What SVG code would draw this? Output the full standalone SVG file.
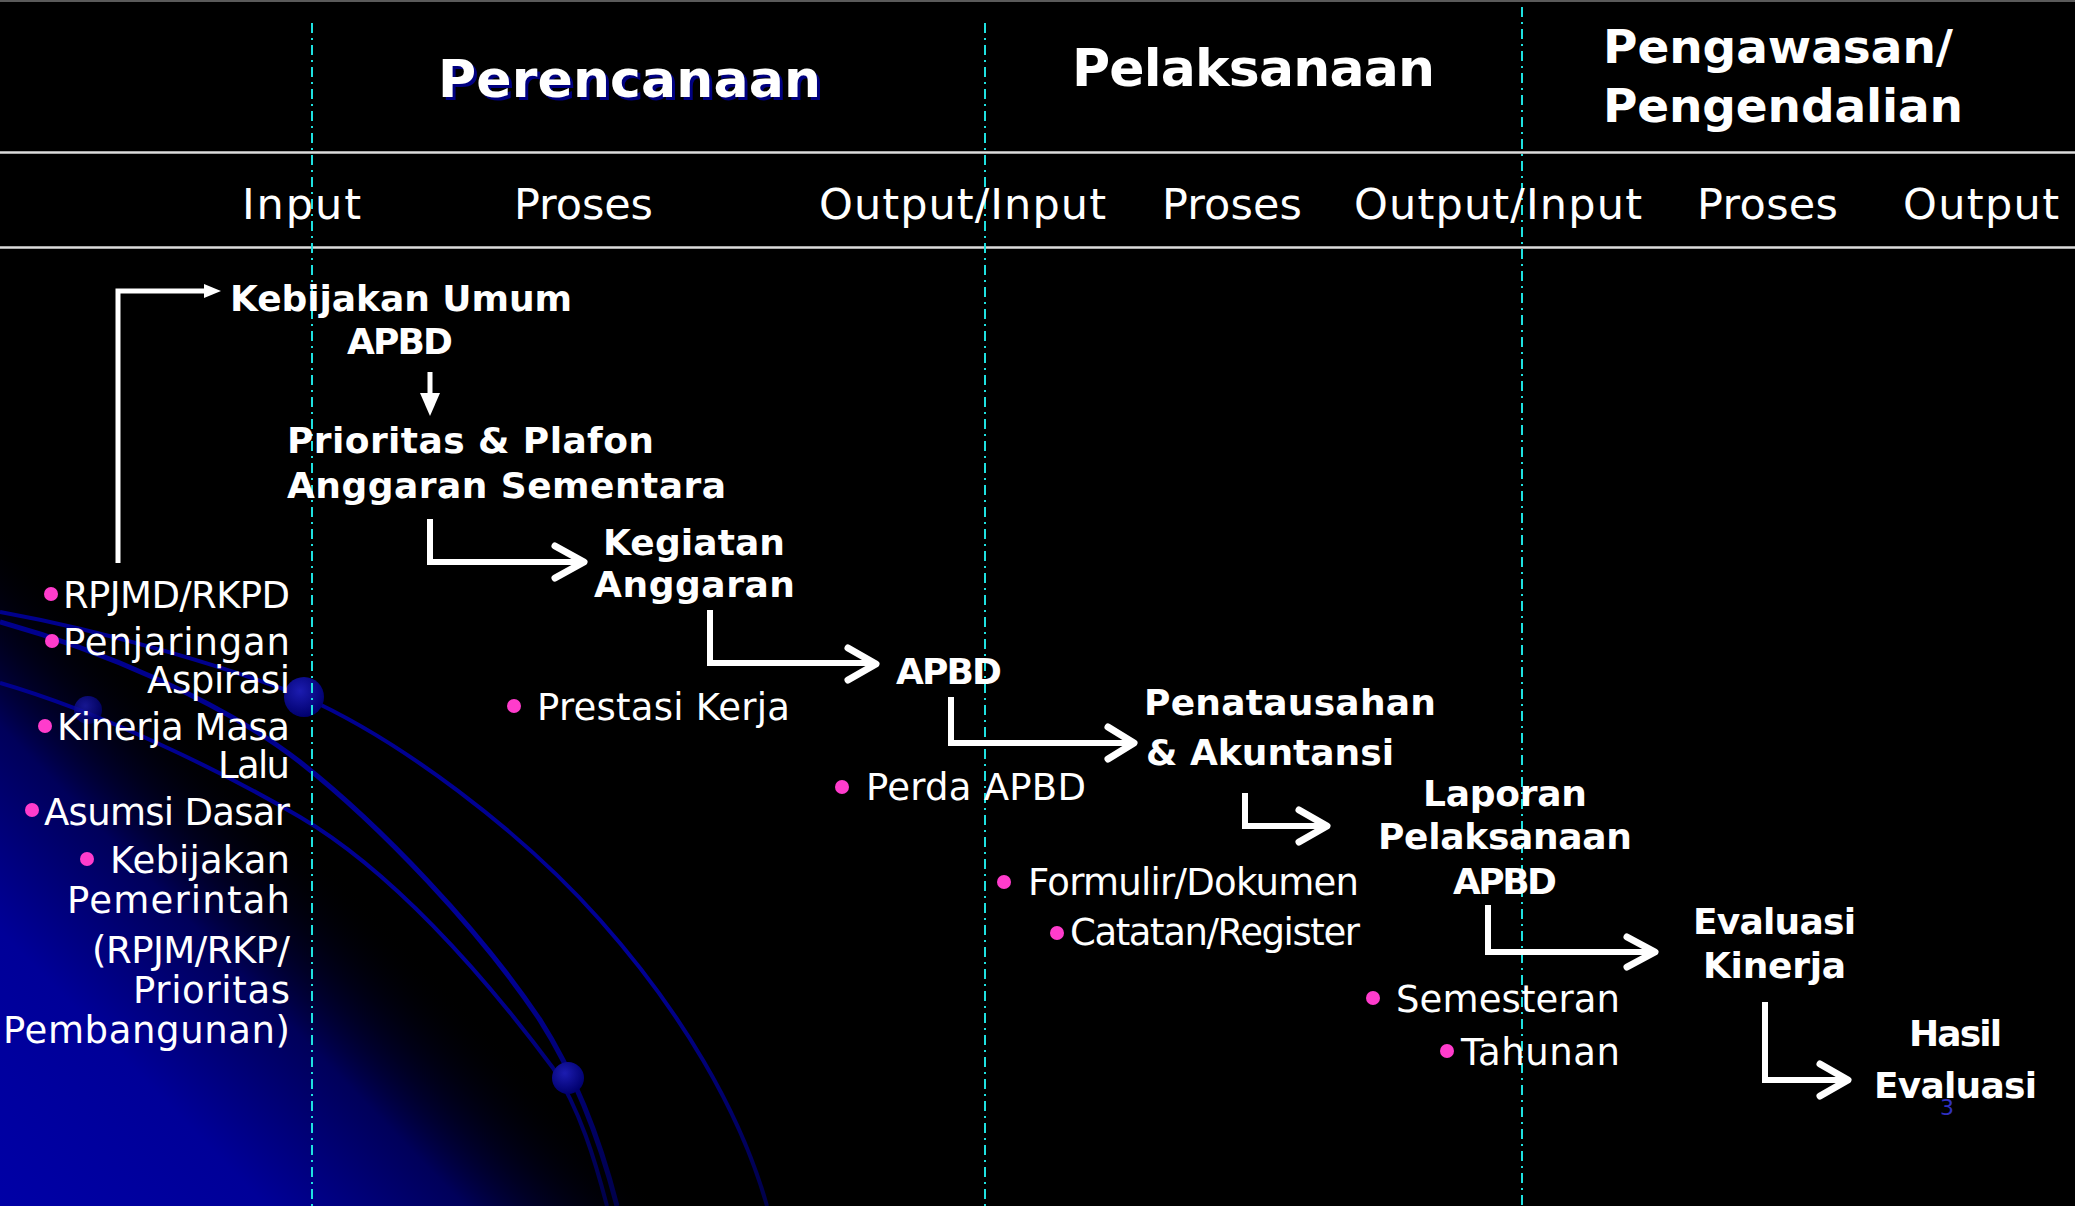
<svg xmlns="http://www.w3.org/2000/svg" width="2075" height="1206" viewBox="0 0 2075 1206">
<defs>
<linearGradient id="bgBlue" gradientUnits="userSpaceOnUse" x1="0" y1="1206" x2="343" y2="874">
<stop offset="0" stop-color="#0000a6"/>
<stop offset="0.4" stop-color="#000098"/>
<stop offset="0.7" stop-color="#00005a"/>
<stop offset="1" stop-color="#000000" stop-opacity="0"/>
</linearGradient>
<linearGradient id="arcFade" gradientUnits="userSpaceOnUse" x1="0" y1="600" x2="0" y2="1206">
<stop offset="0" stop-color="#00008c"/>
<stop offset="0.6" stop-color="#000096"/>
<stop offset="1" stop-color="#00004a"/>
</linearGradient>
<radialGradient id="ball" cx="0.4" cy="0.35" r="0.65">
<stop offset="0" stop-color="#1c1cb0"/>
<stop offset="1" stop-color="#00006e"/>
</radialGradient>
<style>
.bold{font-family:"DejaVu Sans","Verdana",sans-serif;font-weight:bold;fill:#ffffff}
.reg{font-family:"DejaVu Sans","Verdana",sans-serif;fill:#ffffff}
.h1{font-size:52px}
.h2{font-size:47px}
.sub{font-size:43px}
.nb{font-size:36px}
.tx{font-size:37px}
.bul{fill:#ff3ccc}
.sep{stroke:#dcdcdc;stroke-width:2.5}
.vdash{stroke:#1fe0e0;stroke-width:2;stroke-dasharray:10 5 2 5;fill:none}
.arc{fill:none;stroke:url(#arcFade)}
.conn{fill:none;stroke:#ffffff;stroke-width:6;stroke-linejoin:miter}
.thin{fill:none;stroke:#ffffff;stroke-width:5}
.chev{fill:none;stroke:#ffffff;stroke-width:7;stroke-linecap:round;stroke-linejoin:round}
.head{fill:#ffffff}
</style>
</defs>
<g id="background">
<rect x="0" y="0" width="2075" height="1206" fill="#000000"/>
<polygon points="0,470 0,1206 720,1206" fill="url(#bgBlue)"/>
<path class="arc" stroke-width="4" d="M0 612 C110 632 230 668 304 697 C400 740 520 830 600 920 C680 1010 740 1110 767 1206"/>
<path class="arc" stroke-width="5" d="M0 622 C100 650 220 700 300 762 C380 825 480 930 540 1020 C575 1075 600 1140 617 1206"/>
<path class="arc" stroke-width="4" d="M0 683 C100 712 220 770 300 817 C390 870 480 970 553 1068 C580 1110 595 1160 607 1206"/>
<circle cx="304" cy="697" r="20" fill="url(#ball)"/>
<circle cx="88" cy="710" r="14" fill="url(#ball)" opacity="0.8"/>
<circle cx="568" cy="1078" r="16" fill="url(#ball)"/>
<line x1="0" y1="1" x2="2075" y2="1" stroke="#5a5a5a" stroke-width="2"/>
</g>
<g id="grid">
<line class="sep" x1="0" y1="152.5" x2="2075" y2="152.5"/>
<line class="sep" x1="0" y1="247.5" x2="2075" y2="247.5"/>
<line class="vdash" x1="312" y1="23" x2="312" y2="1206"/>
<line class="vdash" x1="985" y1="23" x2="985" y2="1206"/>
<line class="vdash" x1="1522" y1="7" x2="1522" y2="1206"/>
</g>
<g id="header-perencanaan">
<text class="bold h1" x="441" y="100" style="fill:#000080" textLength="383">Perencanaan</text>
<text class="bold h1" x="438" y="97" textLength="383">Perencanaan</text>
</g>
<g id="header-pelaksanaan">
<text class="bold h1" x="1072" y="86" textLength="363">Pelaksanaan</text>
</g>
<g id="header-pengawasan">
<text class="bold h2" x="1603" y="63" textLength="350">Pengawasan/</text>
<text class="bold h2" x="1603" y="122" textLength="360">Pengendalian</text>
</g>
<g id="subheaders">
<text class="reg sub" x="242" y="219" textLength="119">Input</text>
<text class="reg sub" x="514" y="219" textLength="139">Proses</text>
<text class="reg sub" x="819" y="219" textLength="287">Output/Input</text>
<text class="reg sub" x="1162" y="219" textLength="140">Proses</text>
<text class="reg sub" x="1354" y="219" textLength="288">Output/Input</text>
<text class="reg sub" x="1697" y="219" textLength="141">Proses</text>
<text class="reg sub" x="1903" y="219" textLength="156">Output</text>
</g>
<g id="connectors">
<path class="thin" d="M118 563 V291 H206"/>
<polygon class="head" points="221,291 204,284 204,298"/>
<path class="thin" d="M430 372 V396"/>
<polygon class="head" points="430,416 420,393 440,393"/>
<path class="conn" d="M430 519 V562 H582"/>
<path class="chev" d="M555 546 L584 562 L555 578"/>
<path class="conn" d="M710 610 V663 H873"/>
<path class="chev" d="M848 648 L876 664 L848 680"/>
<path class="conn" d="M951 697 V743 H1131"/>
<path class="chev" d="M1108 727 L1134 743 L1108 759"/>
<path class="conn" d="M1245 793 V826 H1324"/>
<path class="chev" d="M1299 810 L1327 826 L1299 842"/>
<path class="conn" d="M1488 905 V952 H1652"/>
<path class="chev" d="M1627 937 L1655 952 L1627 967"/>
<path class="conn" d="M1765 1002 V1080 H1845"/>
<path class="chev" d="M1820 1064 L1848 1080 L1820 1096"/>
</g>
<g id="node-inputs">
<circle class="bul" cx="51" cy="594" r="7"/>
<text class="reg tx" x="290" y="608" text-anchor="end" textLength="227">RPJMD/RKPD</text>
<circle class="bul" cx="52" cy="641" r="7"/>
<text class="reg tx" x="290" y="655" text-anchor="end" textLength="227">Penjaringan</text>
<text class="reg tx" x="290" y="693" text-anchor="end" textLength="143">Aspirasi</text>
<circle class="bul" cx="45" cy="726" r="7"/>
<text class="reg tx" x="290" y="740" text-anchor="end" textLength="233">Kinerja Masa</text>
<text class="reg tx" x="290" y="778" text-anchor="end" textLength="72">Lalu</text>
<circle class="bul" cx="32" cy="810" r="7"/>
<text class="reg tx" x="290" y="825" text-anchor="end" textLength="246">Asumsi Dasar</text>
<circle class="bul" cx="87" cy="859" r="7"/>
<text class="reg tx" x="290" y="873" text-anchor="end" textLength="180">Kebijakan</text>
<text class="reg tx" x="290" y="913" text-anchor="end" textLength="223">Pemerintah</text>
<text class="reg tx" x="290" y="963" text-anchor="end" textLength="198">(RPJM/RKP/</text>
<text class="reg tx" x="290" y="1003" text-anchor="end" textLength="157">Prioritas</text>
<text class="reg tx" x="290" y="1043" text-anchor="end" textLength="287">Pembangunan)</text>
</g>
<g id="node-kebijakan-umum">
<text class="bold nb" x="230" y="311" textLength="342">Kebijakan Umum</text>
<text class="bold nb" x="347" y="354" textLength="106">APBD</text>
</g>
<g id="node-prioritas-plafon">
<text class="bold nb" x="287" y="453" textLength="367">Prioritas &amp; Plafon</text>
<text class="bold nb" x="287" y="498" textLength="439">Anggaran Sementara</text>
</g>
<g id="node-kegiatan-anggaran">
<text class="bold nb" x="603" y="555" textLength="182">Kegiatan</text>
<text class="bold nb" x="594" y="597" textLength="201">Anggaran</text>
</g>
<g id="node-prestasi-kerja">
<circle class="bul" cx="514" cy="706" r="7"/>
<text class="reg tx" x="537" y="720" textLength="253">Prestasi Kerja</text>
</g>
<g id="node-apbd">
<text class="bold nb" x="896" y="684" textLength="106">APBD</text>
</g>
<g id="node-perda-apbd">
<circle class="bul" cx="842" cy="787" r="7"/>
<text class="reg tx" x="866" y="800" textLength="220">Perda APBD</text>
</g>
<g id="node-penatausahan">
<text class="bold nb" x="1144" y="715" textLength="292">Penatausahan</text>
<text class="bold nb" x="1146" y="765" textLength="248">&amp; Akuntansi</text>
</g>
<g id="node-formulir">
<circle class="bul" cx="1004" cy="882" r="7"/>
<text class="reg tx" x="1028" y="895" textLength="331">Formulir/Dokumen</text>
<circle class="bul" cx="1057" cy="933" r="7"/>
<text class="reg tx" x="1070" y="945" textLength="290">Catatan/Register</text>
</g>
<g id="node-laporan">
<text class="bold nb" x="1423" y="806" textLength="164">Laporan</text>
<text class="bold nb" x="1378" y="849" textLength="254">Pelaksanaan</text>
<text class="bold nb" x="1453" y="894" textLength="104">APBD</text>
</g>
<g id="node-semesteran">
<circle class="bul" cx="1373" cy="998" r="7"/>
<text class="reg tx" x="1396" y="1012" textLength="224">Semesteran</text>
<circle class="bul" cx="1447" cy="1051" r="7"/>
<text class="reg tx" x="1461" y="1065" textLength="159">Tahunan</text>
</g>
<g id="node-evaluasi-kinerja">
<text class="bold nb" x="1693" y="934" textLength="163">Evaluasi</text>
<text class="bold nb" x="1703" y="978" textLength="143">Kinerja</text>
</g>
<g id="node-hasil-evaluasi">
<text class="bold nb" x="1909" y="1046" textLength="93">Hasil</text>
<text class="bold nb" x="1874" y="1098" textLength="163">Evaluasi</text>
</g>
<g id="page-number">
<text class="reg" x="1940" y="1115" font-size="22" style="fill:#3030c0">3</text>
</g>
</svg>
